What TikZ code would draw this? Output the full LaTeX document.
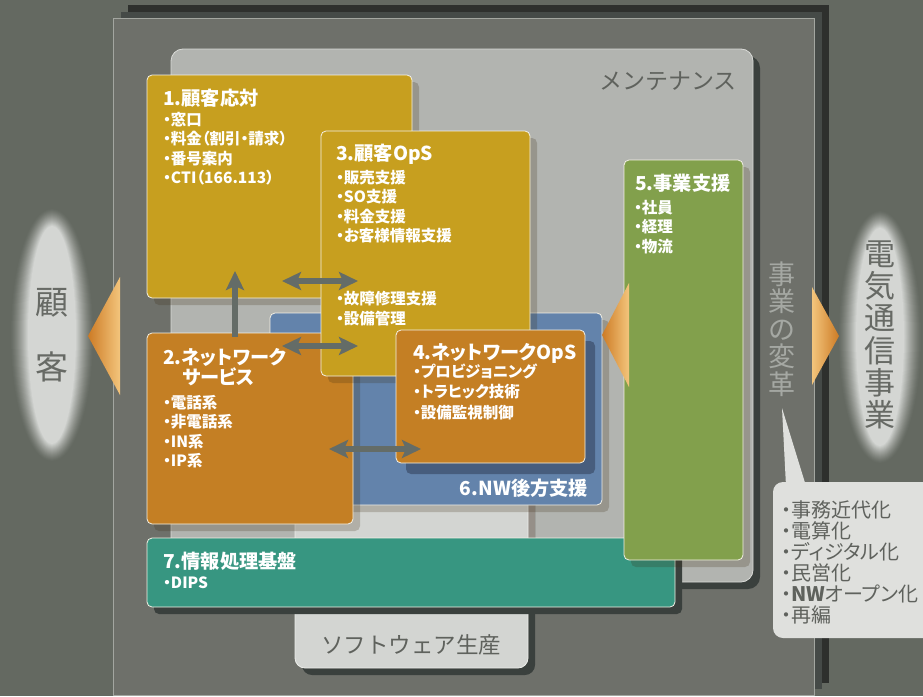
\documentclass[tikz,border=0pt]{standalone}
\usepackage{fontspec}
\setmainfont{Noto Sans CJK JP}
\newfontfamily\pf{Noto Sans CJK JP}[RawFeature=+palt]
\usetikzlibrary{arrows.meta,shadows}
\definecolor{bgc}{HTML}{646961}
\definecolor{panelc}{HTML}{6E706A}
\definecolor{panelln}{HTML}{A3A6A0}
\definecolor{darkA}{HTML}{2E302D}
\definecolor{darkB}{HTML}{454A47}
\definecolor{darksh}{HTML}{3A403D}
\definecolor{maintsh}{HTML}{958F88}
\definecolor{maintc}{HTML}{B2B4B0}
\definecolor{maintln}{HTML}{D9DAD7}
\definecolor{softc}{HTML}{D3D5D2}
\definecolor{softln}{HTML}{ECEDEA}
\definecolor{goldc}{HTML}{C79F1F}
\definecolor{orangec}{HTML}{C47F24}
\definecolor{bluec}{HTML}{6383AB}
\definecolor{greenc}{HTML}{82A04C}
\definecolor{tealc}{HTML}{379681}
\definecolor{shadc}{HTML}{3A2A10}
\definecolor{blush}{HTML}{475D7D}
\definecolor{labelc}{HTML}{5F625D}
\definecolor{glowtxt}{HTML}{676A65}
\definecolor{vtxt}{HTML}{A5A8A3}
\definecolor{arrowc}{HTML}{646C67}
\definecolor{callc}{HTML}{DFE0DD}
\definecolor{glowc}{HTML}{D4D6D3}
\definecolor{trdark}{HTML}{CD7B25}
\definecolor{trlight}{HTML}{F3C57C}
\definecolor{boxln}{HTML}{F4F1E6}
\tikzset{
  panebox/.style={rectangle, rounded corners=5pt, draw=boxln, line width=.8pt, inner sep=0pt, outer sep=0pt, anchor=north west},
  softsh/.style={drop shadow={shadow xshift=7pt, shadow yshift=-7pt, fill=shadc, opacity=.22}},
  hardsh/.style={drop shadow={shadow xshift=7pt, shadow yshift=-7pt, fill=#1, opacity=1}},
  ttl/.style={font=\pf\fontsize{19.2}{20}\selectfont\bfseries, text=white, anchor=base west, inner sep=0pt},
  itm/.style={font=\pf\fontsize{15.5}{16}\selectfont\bfseries, text=white, anchor=base west, inner sep=0pt},
  callt/.style={font=\pf\fontsize{20}{21}\selectfont, text=labelc, anchor=base west, inner sep=0pt},
  conn/.style={draw=arrowc, line width=5.5pt, -{Stealth[length=19pt,width=18pt,inset=4pt]}},
  conn2/.style={draw=arrowc, line width=5.5pt, {Stealth[length=19pt,width=18pt,inset=4pt]}-{Stealth[length=19pt,width=18pt,inset=4pt]}},
}
\begin{document}
\begin{tikzpicture}[x=1pt,y=-1pt]
\useasboundingbox (0,0) rectangle (923,696);
\fill[bgc] (0,0) rectangle (923,696);
% frame layers
\fill[darkA] (128,5) rectangle (829,683);
\fill[darkB] (121,12) rectangle (822,689);
\fill[panelc] (113,18) rectangle (814,695);
\draw[panelln, line width=.8pt] (113,18) rectangle (814,695);
% glows
\foreach \d in {0,1,...,18} {
  \pgfmathsetmacro\m{100*(\d/18)^1.3}
  \fill[glowc!\m!bgc] (52,335) ellipse [x radius={(42-\d)*1pt}, y radius={(127-\d)*1pt}];
  \fill[glowc!\m!bgc] (880,337) ellipse [x radius={(42-\d)*1pt}, y radius={(127-\d)*1pt}];
}
% maintenance
\node[panebox, fill=maintc, draw=maintln, rounded corners=12pt, hardsh=darksh, minimum width=582pt, minimum height=533pt] (mt) at (171,49) {};
\node[font=\fontsize{23}{24}\selectfont, text=labelc, anchor=base east, inner sep=0pt] (mtl) at (737,89.5) {メンテナンス};
% software
\fill[darksh, rounded corners=10pt] (302,477) rectangle (535,675);
\begin{scope}
\clip[rounded corners=12pt] (171,49) rectangle (753,582);
\fill[maintsh, rounded corners=10pt] (302,477) rectangle (535,675);
\end{scope}
\node[panebox, fill=softc, draw=softln, rounded corners=10pt, minimum width=233pt, minimum height=198pt] (sw) at (295,470) {};
\node[font=\fontsize{22.5}{23}\selectfont, text=labelc, anchor=base, inner sep=0pt] (swl) at (411,653.5) {ソフトウェア生産};
% box 7
\node[panebox, fill=tealc, hardsh=darksh, minimum width=528pt, minimum height=69pt] (b7) at (147,538) {};
% box 6
\node[panebox, fill=bluec, softsh, minimum width=332pt, minimum height=192pt] (b6) at (270,313) {};
\node[ttl, anchor=base east] (b6t) at (588,495) {6.NW後方支援};
% box 1
\node[panebox, fill=goldc, softsh, minimum width=265pt, minimum height=223pt] (b1) at (147,75) {};
% box 2
\node[panebox, fill=orangec, softsh, minimum width=206pt, minimum height=191pt] (b2) at (147,333) {};
% box 3
\node[panebox, fill=goldc, softsh, minimum width=209pt, minimum height=245pt] (b3) at (321,131) {};
% box 4
\node[panebox, fill=orangec, drop shadow={shadow xshift=10pt, shadow yshift=-11pt, fill=blush, opacity=1}, minimum width=189pt, minimum height=133pt] (b4) at (396,330) {};
% box 5
\node[panebox, fill=greenc, softsh, minimum width=119pt, minimum height=400pt] (b5) at (624,160) {};
% texts
\node[ttl] (b1t) at (163,105) {1.顧客応対};
\foreach \t [count=\i] in {窓口,料金（割引・請求）,番号案内,CTI（166.113）}
  {\node[itm] (b1i\i) at (163,{125+(\i-1)*19.6}) {・\t};}
\node[ttl] (b3t) at (336,160.5) {3.顧客OpS};
\foreach \t [count=\i] in {販売支援,SO支援,料金支援,お客様情報支援}
  {\node[itm] (b3i\i) at (336,{183+(\i-1)*19.5}) {・\t};}
\node[itm] (b3j1) at (336,304) {・故障修理支援};
\node[itm] (b3j2) at (336,324) {・設備管理};
\node[ttl] (b2t) at (163,364.5) {2.ネットワーク};
\node[ttl] (b2u) at (182,384.5) {サービス};
\foreach \t [count=\i] in {電話系,非電話系,IN系,IP系}
  {\node[itm] (b2i\i) at (163,{408+(\i-1)*19.5}) {・\t};}
\node[ttl] (b4t) at (413,359.5) {4.ネットワークOpS};
\foreach \t [count=\i] in {プロビジョニング,トラヒック技術,設備監視制御}
  {\node[itm] (b4i\i) at (413,{377+(\i-1)*20.5}) {・\t};}
\node[ttl] (b5t) at (635,190.5) {5.事業支援};
\foreach \t [count=\i] in {社員,経理,物流}
  {\node[itm] (b5i\i) at (634,{213+(\i-1)*19.5}) {・\t};}
\node[ttl] (b7t) at (163,568.5) {7.情報処理基盤};
\node[itm] (b7i1) at (163,588) {・DIPS};
% arrows
\coordinate (upA) at (235,337);
\coordinate (upB) at (235,271);
\draw[conn] (upA) -- (upB);
\coordinate (h1a) at (282,281); \coordinate (h1b) at (358,281);
\draw[conn2] (h1a) -- (h1b);
\coordinate (h2a) at (282,346); \coordinate (h2b) at (358,346);
\draw[conn2] (h2a) -- (h2b);
\coordinate (h3a) at (329,449); \coordinate (h3b) at (421,449);
\draw[conn2] (h3a) -- (h3b);
% orange triangles
\shade[left color=trdark, right color=trlight] (88,336) -- (120,277) -- (120,395) -- cycle;
\shade[left color=trdark, right color=trlight] (602,335) -- (629,283) -- (629,387) -- cycle;
\shade[left color=trlight, right color=trdark] (839,336) -- (812,287) -- (812,385) -- cycle;
% vertical texts
\node[font=\fontsize{27}{27.6}\selectfont, text=vtxt, align=center, inner sep=0pt] (vt) at (782,329) {事\\業\\の\\変\\革};
\node[font=\fontsize{31}{32.3}\selectfont, text=glowtxt, align=center, inner sep=0pt] (rt) at (880,335) {電\\気\\通\\信\\事\\業};
\node[font=\fontsize{33}{65}\selectfont, text=glowtxt, align=center, inner sep=0pt] (lt) at (52,335) {顧\\客};
% callout
\fill[callc] (782,408) -- (786,486) -- (806,486) -- cycle;
\fill[callc, rounded corners=10pt] (773,482) rectangle (945,638);
\foreach \t [count=\i] in {事務近代化,電算化,ディジタル化,民営化,\textbf{NW}オープン化,再編}
  {\node[callt] (c\i) at (781,{517.5+(\i-1)*21}) {・\t};}
\end{tikzpicture}
\end{document}
